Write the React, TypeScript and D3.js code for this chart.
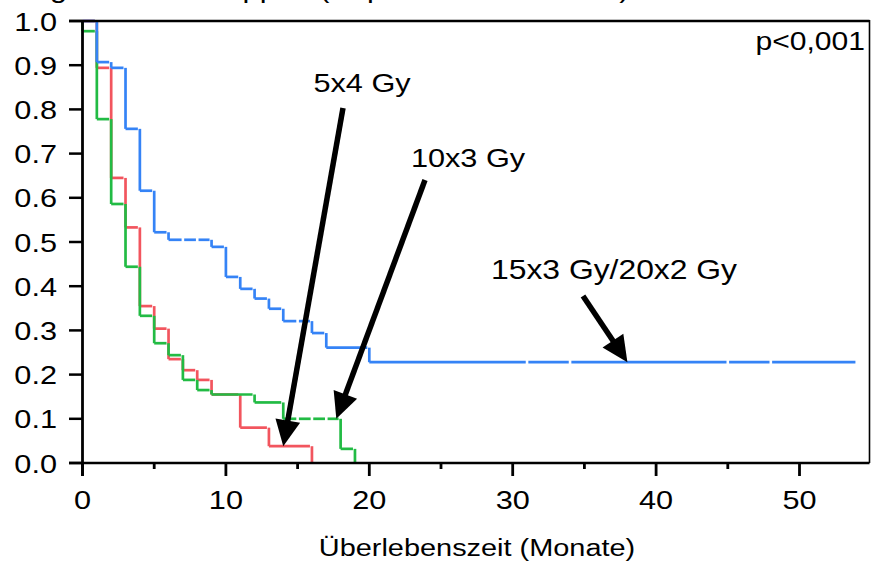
import React from "react";
import * as d3 from "d3";

const W = 872;
const H = 566;

// Kaplan-Meier steps: month of event and survival fraction after it
const redTimes = [0, 1, 2, 3, 4, 5, 6, 7, 8, 9, 11, 13, 16];
const redSurv = [1, 0.894, 0.645, 0.533, 0.355, 0.304, 0.235, 0.21, 0.188, 0.155, 0.08, 0.038, 0];
const redCensored: number[] = [];
const redEnd = 16;

const greenTimes = [0, 0, 1, 2, 3, 4, 5, 6, 7, 8, 9, 12, 14, 18, 19];
const greenSurv = [1, 0.977, 0.778, 0.586, 0.444, 0.333, 0.271, 0.244, 0.188, 0.165, 0.155, 0.137, 0.1, 0.032, 0];
const greenCensored = [15, 16, 17];
const greenEnd = 19;

const blueTimes = [0, 1, 2, 3, 4, 5, 6, 9, 10, 11, 12, 13, 14, 16, 17, 20];
const blueSurv = [1, 0.907, 0.894, 0.756, 0.616, 0.522, 0.505, 0.489, 0.421, 0.394, 0.372, 0.349, 0.321, 0.294, 0.261, 0.228];
const blueCensored = [7, 8, 15, 31, 34, 45, 48];
const blueEnd = 53.9;

const seriesNames = ["5x4 Gy", "10x3 Gy", "15x3 Gy/20x2 Gy"];
const arrowTimes = [14, 17.7, 38];

const yTicks = [0, 0.1, 0.2, 0.3, 0.4, 0.5, 0.6, 0.7, 0.8, 0.9, 1.0];
const xMajor = [0, 10, 20, 30, 40, 50];
const xMinor = [5, 15, 25, 35, 45];

const xTitle = "Überlebenszeit (Monate)";
const pText = "p<0,001";
const titleText = "Vergleich der Gruppen (Kaplan-Meier-Kurven)";

const FONT = "'Liberation Sans', Arial, Helvetica, sans-serif";
const SX = 1.18; // horizontal stretch of the lettering

const x = d3.scaleLinear().domain([0, 50]).range([82.5, 799.5]);
const y = d3.scaleLinear().domain([0, 1]).range([463, 21]);
const frameRight = 869.5;

const colors = { red: "#f2555e", green: "#22bb44", blue: "#3583f6" };

type Seg = [number, number, number, number];

function stepSegments(times: number[], surv: number[], end: number, censored: number[]): Seg[] {
  const segs: Seg[] = [];
  for (let i = 0; i < times.length; i++) {
    const t0 = times[i];
    const last = i === times.length - 1;
    const t1 = last ? end : times[i + 1];
    const yy = y(surv[i]);
    if (i > 0 && surv[i - 1] !== surv[i]) {
      segs.push([x(t0), y(surv[i - 1]), x(t0), yy]);
    }
    const xa = x(t0);
    const xb = last ? x(t1) : x(t1) - 2;
    const cuts = censored.filter((c) => c > t0 && c < t1).map((c) => x(c));
    let s = xa;
    for (const c of cuts) {
      if (c - 1.3 > s) segs.push([s, yy, c - 1.3, yy]);
      s = c + 1.3;
    }
    if (xb > s) segs.push([s, yy, xb, yy]);
  }
  return segs;
}

function survAt(times: number[], surv: number[], t: number) {
  let v = surv[0];
  for (let i = 0; i < times.length; i++) if (times[i] <= t) v = surv[i];
  return v;
}

function Curve({ segs, color }: { segs: Seg[]; color: string }) {
  return (
    <g stroke={color} strokeWidth={2.7} strokeLinecap="butt" fill="none">
      {segs.map((s, i) => (
        <line key={i} x1={s[0]} y1={s[1]} x2={s[2]} y2={s[3]} />
      ))}
    </g>
  );
}

function Arrow({ x0, y0, x1, y1 }: { x0: number; y0: number; x1: number; y1: number }) {
  const dx = x1 - x0;
  const dy = y1 - y0;
  const len = Math.hypot(dx, dy);
  const ux = dx / len;
  const uy = dy / len;
  const headLen = 26;
  const headHalf = 12.5;
  const bx = x1 - ux * headLen;
  const by = y1 - uy * headLen;
  const px = -uy;
  const py = ux;
  const pts = [
    [x1, y1],
    [bx + px * headHalf, by + py * headHalf],
    [bx - px * headHalf, by - py * headHalf],
  ];
  return (
    <g>
      <line x1={x0} y1={y0} x2={bx + ux * 4} y2={by + uy * 4} stroke="#000" strokeWidth={5.5} />
      <polygon points={pts.map((p) => p.join(",")).join(" ")} fill="#000" />
    </g>
  );
}

function SText({ tx, ty, anchor = "start", size, children }: any) {
  return (
    <text
      transform={`translate(${tx},${ty}) scale(${SX},1)`}
      textAnchor={anchor}
      fontSize={size}
      fontFamily={FONT}
      fill="#000"
    >
      {children}
    </text>
  );
}

export default function App() {
  const redSegs = stepSegments(redTimes, redSurv, redEnd, redCensored);
  const greenSegs = stepSegments(greenTimes, greenSurv, greenEnd, greenCensored);
  const blueSegs = stepSegments(blueTimes, blueSurv, blueEnd, blueCensored);

  const tips = [
    { t: arrowTimes[0], s: survAt(redTimes, redSurv, arrowTimes[0]) },
    { t: arrowTimes[1], s: survAt(greenTimes, greenSurv, arrowTimes[1]) },
    { t: arrowTimes[2], s: survAt(blueTimes, blueSurv, arrowTimes[2]) },
  ];
  // label anchor and arrow tail for each annotation
  const annot = [
    { lx: 362, ly: 92, ax: 343, ay: 108 },
    { lx: 468, ly: 167, ax: 425, ay: 180 },
    { lx: 614, ly: 279, ax: 583, ay: 296 },
  ];

  const fmt = d3.format(".1f");

  return (
    <svg
      width={W}
      height={H}
      style={{ position: "absolute", left: 0, top: 0, background: "#fff" }}
    >
      <rect width={W} height={H} fill="#fff" />
      <SText tx={4} ty={-2} size={26}>{titleText}</SText>

      {/* curves */}
      <Curve segs={redSegs} color={colors.red} />
      <Curve segs={greenSegs} color={colors.green} />
      <Curve segs={blueSegs} color={colors.blue} />

      {/* frame and axes */}
      <g stroke="#000" fill="none">
        <line x1={69} y1={y(1)} x2={frameRight} y2={y(1)} strokeWidth={2.5} />
        <line x1={69} y1={y(0)} x2={frameRight} y2={y(0)} strokeWidth={2.5} />
        <line x1={frameRight} y1={y(1) - 1} x2={frameRight} y2={y(0)} strokeWidth={1.6} />
        <line x1={x(0)} y1={y(1) - 1} x2={x(0)} y2={y(0) + 13} strokeWidth={2.8} />
        {yTicks.map((v) => (
          <line key={"yt" + v} x1={69} y1={y(v)} x2={x(0)} y2={y(v)} strokeWidth={2.5} />
        ))}
        {xMajor.map((v) => (
          <line key={"xM" + v} x1={x(v)} y1={y(0)} x2={x(v)} y2={y(0) + 13} strokeWidth={2.8} />
        ))}
        {xMinor.map((v) => (
          <line key={"xm" + v} x1={x(v)} y1={y(0)} x2={x(v)} y2={y(0) + 6} strokeWidth={2.8} />
        ))}
      </g>

      {yTicks.map((v) => (
        <SText key={"yl" + v} tx={57} ty={y(v) + 9.5} anchor="end" size={26}>
          {fmt(v)}
        </SText>
      ))}
      {xMajor.map((v) => (
        <SText key={"xl" + v} tx={x(v)} ty={509} anchor="middle" size={26}>
          {v}
        </SText>
      ))}
      <SText tx={477} ty={556} anchor="middle" size={24.5}>
        {xTitle}
      </SText>
      <SText tx={865} ty={50} anchor="end" size={25.5}>
        {pText}
      </SText>

      {/* annotations */}
      {annot.map((a, i) => (
        <g key={"an" + i}>
          <SText tx={a.lx} ty={a.ly} anchor="middle" size={i === 2 ? 27 : 26}>
            {seriesNames[i]}
          </SText>
          <Arrow x0={a.ax} y0={a.ay} x1={x(tips[i].t)} y1={y(tips[i].s)} />
        </g>
      ))}
    </svg>
  );
}
